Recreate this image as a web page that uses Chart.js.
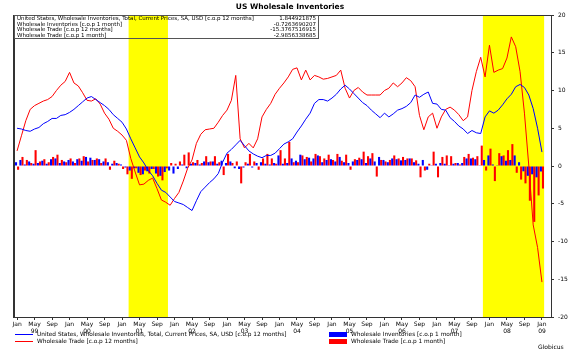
<!DOCTYPE html>
<html><head><meta charset="utf-8">
<script src="https://cdn.jsdelivr.net/npm/chart.js@4.4.1/dist/chart.umd.min.js"></script>
<style>
html,body{margin:0;padding:0;background:#fff;}
#wrap{position:relative;width:580px;height:355px;font-family:"DejaVu Sans",sans-serif;color:#000;overflow:hidden;}
canvas{position:absolute;left:0;top:0;}
#title{position:absolute;top:2px;left:0;width:580px;text-align:center;font-weight:bold;font-size:7.5px;}
#tbl{position:absolute;left:14px;top:15px;width:303px;height:22px;border:1px solid #555;font-size:5.5px;line-height:5.5px;}
#tbl .r{position:relative;height:5.5px;white-space:nowrap;padding-left:2px;}
#tbl .v{position:absolute;right:2px;top:0;}
.lg{position:absolute;font-size:5.8px;white-space:nowrap;line-height:7px;}
.lg .sw{display:inline-block;vertical-align:middle;margin-right:4px;}
#src{position:absolute;left:538px;top:343px;font-size:6px;}
</style></head>
<body><div id="wrap">
<canvas id="c" width="580" height="355"></canvas>
<div id="title">US Wholesale Inventories</div>
<div id="tbl"></div>
<div id="legend"></div>
<div id="src">Globicus</div>
</div>
<script>
// months from Jan 1999 to Jan 2009
const tickMonths = ['Jan','May','Sep'];
const tickYears = ['99','00','01','02','03','04','05','06','07','08','09'];
const seriesNames = [
  'United States, Wholesale Inventories, Total, Current Prices, SA, USD [c.o.p 12 months]',
  'Wholesale Inventories [c.o.p 1 month]',
  'Wholesale Trade [c.o.p 12 months]',
  'Wholesale Trade [c.o.p 1 month]'
];
// recession bands (month index from Jan 1999)
const recessionStart = [26, 107];
const recessionEnd = [34, 120];

const invYoY = [5.0,4.9,4.7,4.6,4.9,5.1,5.6,5.9,6.3,6.3,6.7,6.8,
 7.1,7.5,8.0,8.5,9.0,9.2,8.8,8.4,8.0,7.5,6.8,6.3,
 5.8,4.9,3.6,2.4,1.2,0.4,-0.6,-1.3,-2.3,-3.2,-3.5,-4.1,
 -4.7,-4.9,-5.1,-5.5,-5.9,-4.6,-3.4,-2.8,-2.2,-1.7,-1.0,0.5,
 1.7,2.2,2.8,3.4,2.7,2.0,1.6,1.3,1.1,1.4,1.4,1.7,
 2.3,2.9,3.2,3.6,4.5,5.3,6.2,7.0,8.3,8.8,8.8,8.6,
 9.0,9.5,10.2,10.7,10.2,9.6,9.0,8.4,8.0,7.4,6.9,6.4,
 7.0,6.5,6.9,7.4,7.6,7.9,8.4,9.4,9.1,9.5,9.8,8.3,
 8.2,7.5,7.4,6.4,5.9,5.3,4.9,4.3,4.7,4.4,4.3,6.5,
 7.3,7.0,7.4,8.1,8.9,9.5,10.5,10.8,10.4,9.4,7.6,5.0,
 1.844921875];
const invMoM = [0.5,0.8,0.2,0.6,0.3,0.4,0.7,0.3,0.9,1.0,0.4,0.6,
 0.8,0.6,0.9,0.7,1.2,1.1,0.8,0.9,0.6,0.5,0.3,0.4,
 0.2,-0.2,-0.6,-0.3,-0.9,-1.1,-0.7,-0.4,-1.0,-1.3,-0.8,-0.6,
 -1.0,-0.4,0.2,-0.3,0.3,0.4,0.2,0.6,0.5,0.6,0.3,0.7,
 0.4,0.6,-0.3,-0.4,-0.2,0.3,-0.2,0.4,0.5,0.3,0.2,0.4,
 1.4,0.3,0.4,1.0,0.7,1.5,0.9,1.1,1.0,1.4,0.5,0.8,
 0.9,0.6,1.2,0.5,0.4,0.6,0.8,0.9,0.4,1.0,0.6,1.2,
 0.8,0.5,1.0,0.9,0.75,0.8,1.0,0.5,0.3,0.8,-0.5,0.1,
 0.3,0.4,0.3,0.1,0.3,0.4,0.4,1.0,1.0,0.9,0.1,0.8,
 1.4,0.2,0.1,1.3,0.7,0.8,1.4,0.5,-0.7,-1.3,-1.1,-1.5,
 -0.7263690207];
const tradeYoY = [2.0,4.0,6.0,7.5,8.0,8.3,8.6,8.8,9.2,10.0,10.7,11.2,
 12.4,11.0,10.6,9.7,8.7,8.6,8.9,8.2,7.0,6.2,5.0,4.6,
 4.1,3.4,1.0,-0.8,-2.5,-2.4,-1.9,-1.6,-3.0,-4.5,-4.8,-5.2,
 -4.3,-3.5,-2.0,-0.3,0.8,3.0,4.2,4.8,4.9,5.0,5.8,6.7,
 7.4,8.7,12.0,3.6,2.4,3.0,2.4,3.6,6.5,7.5,8.3,9.5,
 10.3,11.0,11.8,12.8,13.0,11.4,12.7,11.4,12.0,11.8,11.5,11.6,
 11.8,12.0,12.7,10.3,9.0,10.0,10.4,9.8,9.4,9.4,9.4,9.4,
 10.0,10.3,11.0,10.5,11.0,11.7,11.3,10.5,6.7,4.8,6.5,7.0,
 5.0,6.5,7.5,7.8,7.4,6.8,6.0,6.5,10.0,12.5,14.4,11.8,
 16.0,12.4,12.7,12.9,14.3,17.1,15.8,12.5,7.0,0.0,-7.8,-10.8,
 -15.3767516915];
const tradeMoM = [-0.5,1.2,0.8,0.4,2.1,0.6,0.9,0.5,1.2,1.5,0.8,0.5,
 1.0,0.4,1.0,1.3,0.6,0.8,1.0,0.4,1.0,-0.5,0.7,0.3,
 -0.4,-1.1,-1.7,-0.3,-1.2,-0.6,-1.0,-0.4,-1.4,-1.9,-0.3,0.4,
 0.3,0.6,1.5,1.8,0.5,0.8,0.4,1.3,0.6,1.3,0.5,-1.2,
 1.6,0.4,0.6,-2.3,0.5,1.6,0.6,-0.5,1.0,1.6,1.0,0.3,
 2.1,1.0,3.2,0.5,0.5,1.4,1.2,0.6,1.6,1.3,1.0,1.5,
 0.8,1.6,0.7,1.5,-0.5,0.9,1.1,1.9,1.3,1.7,-1.4,0.8,
 0.6,0.8,1.4,1.0,1.2,1.0,1.0,0.75,-1.5,-0.6,0.3,1.9,
 -1.5,1.2,1.4,1.3,0.4,0.2,1.2,1.6,1.1,1.3,2.7,-0.6,
 2.3,-2.0,1.7,1.4,2.1,2.9,-0.9,-1.8,-2.3,-4.6,-7.4,-3.9,
 -2.9856338685];

const BLUE = '#0000ff', RED = '#ff0000';
const pts = arr => arr.map((v, i) => ({x: i, y: v}));

// value table
const lastVals = [invYoY, invMoM, tradeYoY, tradeMoM].map(a => String(a[a.length - 1]));
document.getElementById('tbl').innerHTML = seriesNames.map((n, k) =>
  '<div class="r">' + n + '<span class="v">' + lastVals[k] + '</span></div>').join('');

// legend
const legItems = [
  {name: seriesNames[0], color: BLUE, kind: 'line', left: 15, top: 331},
  {name: seriesNames[2], color: RED, kind: 'line', left: 15, top: 338},
  {name: seriesNames[1], color: BLUE, kind: 'rect', left: 329, top: 331},
  {name: seriesNames[3], color: RED, kind: 'rect', left: 329, top: 338}
];
document.getElementById('legend').innerHTML = legItems.map(it => {
  const sw = it.kind === 'line'
    ? '<span class="sw" style="width:18px;height:1px;background:' + it.color + '"></span>'
    : '<span class="sw" style="width:18px;height:5px;background:' + it.color + '"></span>';
  return '<div class="lg" style="left:' + it.left + 'px;top:' + it.top + 'px">' + sw + it.name + '</div>';
}).join('');

const bands = {
  id: 'bands',
  beforeDatasetsDraw(chart) {
    const {ctx, chartArea: a, scales: {x}} = chart;
    ctx.save();
    ctx.fillStyle = '#ffff00';
    recessionStart.forEach((s, k) => {
      const x0 = x.getPixelForValue(s - 0.5), x1 = x.getPixelForValue(recessionEnd[k] + 0.5);
      ctx.fillRect(x0, a.top, x1 - x0, a.bottom - a.top);
    });
    ctx.restore();
  }
};
const frame = {
  id: 'frame',
  afterDraw(chart) {
    const {ctx, chartArea: a} = chart;
    ctx.save();
    ctx.strokeStyle = '#333';
    ctx.lineWidth = 1;
    ctx.strokeRect(a.left + 0.5, a.top + 0.5, a.right - a.left, a.bottom - a.top);
    ctx.lineWidth = 2;
    ctx.beginPath(); ctx.moveTo(a.left, a.top); ctx.lineTo(a.left, a.bottom + 1); ctx.stroke();
    ctx.restore();
  }
};

const tickFont = {family: 'DejaVu Sans', size: 6};
new Chart(document.getElementById('c'), {
  type: 'bar',
  data: {
    datasets: [
      {type: 'line', label: seriesNames[0], data: pts(invYoY), borderColor: BLUE, borderWidth: 1, pointRadius: 0, order: 0},
      {type: 'line', label: seriesNames[2], data: pts(tradeYoY), borderColor: RED, borderWidth: 1, pointRadius: 0, order: 0},
      {type: 'bar', label: seriesNames[1], data: pts(invMoM), backgroundColor: BLUE, order: 1, barPercentage: 1, categoryPercentage: 0.95},
      {type: 'bar', label: seriesNames[3], data: pts(tradeMoM), backgroundColor: RED, order: 1, barPercentage: 1, categoryPercentage: 0.95}
    ]
  },
  options: {
    responsive: false, animation: false, devicePixelRatio: 1,
    layout: {padding: {left: 14, top: 15, right: 0, bottom: 0}},
    plugins: {legend: {display: false}, tooltip: {enabled: false}, title: {display: false}},
    scales: {
      x: {
        type: 'linear', min: -0.7, max: 122.07, offset: false,
        grid: {drawOnChartArea: false, tickLength: 3, color: '#333', offset: false},
        border: {display: false},
        afterBuildTicks: s => { const t = []; for (let v = 0; v <= 120; v += 4) t.push({value: v}); s.ticks = t; },
        ticks: {
          autoSkip: false, maxRotation: 0, font: tickFont, color: '#000', padding: 1,
          callback: v => {
            const m = tickMonths[(v % 12) / 4];
            const y = ((v % 12) === 4 || v === 120) ? tickYears[Math.floor(v / 12)] : '';
            return [m, y];
          }
        },
        afterFit: s => { s.height = 38; }
      },
      y: {
        position: 'right', min: -20, max: 20,
        grid: {drawOnChartArea: false, tickLength: 3, color: '#333'},
        border: {display: false},
        ticks: {stepSize: 5, font: tickFont, color: '#000', padding: 4},
        afterFit: s => { s.width = 29; }
      }
    }
  },
  plugins: [bands, frame]
});
</script>
</body></html>
